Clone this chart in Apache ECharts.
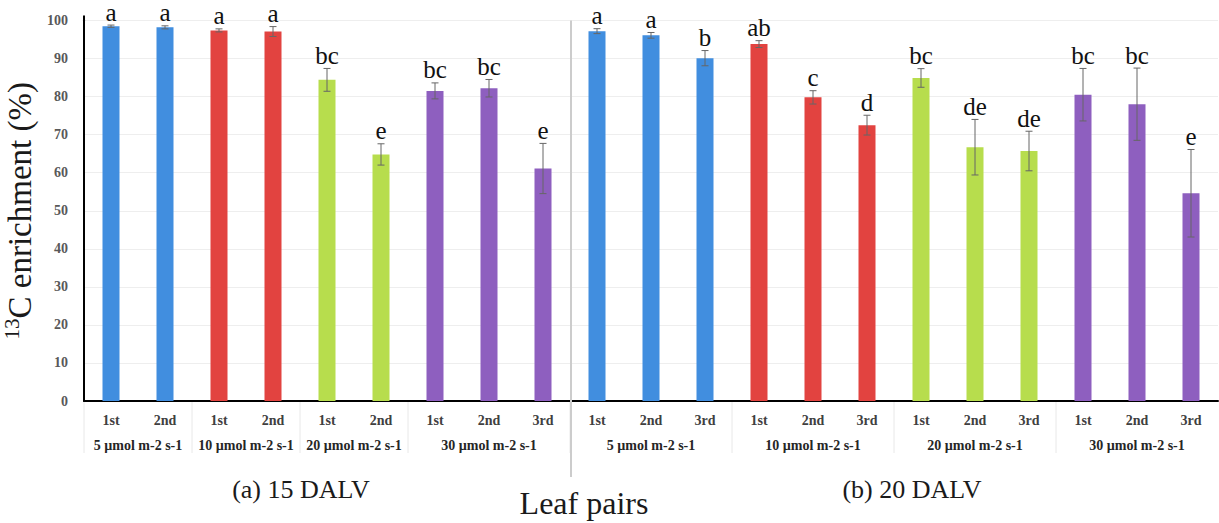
<!DOCTYPE html>
<html>
<head>
<meta charset="utf-8">
<script src="https://cdn.jsdelivr.net/npm/echarts@6/dist/echarts.min.js"></script>
<style>
  html, body { margin: 0; padding: 0; background: #ffffff; }
  #chart { width: 1219px; height: 523px; }
</style>
</head>
<body>
<div id="chart"></div>
<script>
// Leaf pair of each bar, left panel (15 DALV) then right panel (20 DALV)
const leafPairs = ['1st', '2nd', '1st', '2nd', '1st', '2nd', '1st', '2nd', '3rd',
                   '1st', '2nd', '3rd', '1st', '2nd', '3rd', '1st', '2nd', '3rd', '1st', '2nd', '3rd'];
// Mean 13C enrichment (%)
const enrichment = [98.5, 98.2, 97.4, 97.1, 84.4, 64.8, 81.5, 82.2, 61.1,
                    97.2, 96.1, 90.1, 93.8, 79.8, 72.5, 84.9, 66.7, 65.7, 80.5, 78.0, 54.6];
// Error bar half-lengths
const errorSize = [0.3, 0.4, 0.4, 1.3, 3.0, 2.8, 2.1, 2.3, 6.6,
                   0.65, 0.75, 2.0, 0.9, 1.75, 2.6, 2.45, 7.3, 5.2, 6.9, 9.5, 11.5];
// Significance letters
const letters = ['a', 'a', 'a', 'a', 'bc', 'e', 'bc', 'bc', 'e',
                 'a', 'a', 'b', 'ab', 'c', 'd', 'bc', 'de', 'de', 'bc', 'bc', 'e'];
// Light level index of each bar
const lightIndex = [0, 0, 1, 1, 2, 2, 3, 3, 3, 0, 0, 0, 1, 1, 1, 2, 2, 2, 3, 3, 3];
const lightLevels = ['5 µmol m-2 s-1', '10 µmol m-2 s-1', '20 µmol m-2 s-1', '30 µmol m-2 s-1'];
// Light-level groups: first bar, last bar, light level
const groupSpans = [[0, 1, 0], [2, 3, 1], [4, 5, 2], [6, 8, 3],
                    [9, 11, 0], [12, 14, 1], [15, 17, 2], [18, 20, 3]];
// First bar of the second panel
const panelStarts = [9];
const panelTitles = ['(a) 15 DALV', '(b) 20 DALV'];
const yTicks = [0, 10, 20, 30, 40, 50, 60, 70, 80, 90, 100];

const palette = ['#418EDF', '#E24340', '#B7DD4D', '#8E5FBF'];
const serif = "'Liberation Serif', 'Times New Roman', serif";

const chart = echarts.init(document.getElementById('chart'), null, { renderer: 'svg' });

chart.setOption({
  animation: false,
  backgroundColor: '#ffffff',
  grid: { left: 84, right: 1, top: 20.5, bottom: 122, containLabel: false, outerBoundsMode: 'none' },
  graphic: [
    { type: 'text', x: 301, y: 489, style: { text: panelTitles[0], font: '26px ' + serif, fill: '#1a1a1a', align: 'center', verticalAlign: 'middle' } },
    { type: 'text', x: 912, y: 489, style: { text: panelTitles[1], font: '26px ' + serif, fill: '#1a1a1a', align: 'center', verticalAlign: 'middle' } },
    { type: 'text', x: 584, y: 503, style: { text: 'Leaf pairs', font: '32px ' + serif, fill: '#1a1a1a', align: 'center', verticalAlign: 'middle' } }
  ],
  xAxis: {
    type: 'category',
    data: leafPairs,
    boundaryGap: true,
    axisLine: { show: true, lineStyle: { color: '#000000', width: 2 } },
    axisTick: { show: false },
    axisLabel: { interval: 0, margin: 12, fontFamily: serif, fontWeight: 'bold', fontSize: 14, color: '#404040' },
    splitLine: { show: false }
  },
  yAxis: {
    type: 'value',
    min: yTicks[0],
    max: yTicks[yTicks.length - 1],
    interval: yTicks[1] - yTicks[0],
    name: '{sup|13}{main|C enrichment (%)}',
    nameLocation: 'middle',
    nameGap: 41,
    nameTextStyle: {
      rich: {
        sup: { fontFamily: serif, fontSize: 21, color: '#1a1a1a', verticalAlign: 'top', lineHeight: 20 },
        main: { fontFamily: serif, fontSize: 33, color: '#1a1a1a', lineHeight: 36 }
      }
    },
    axisLine: { show: true, lineStyle: { color: '#000000', width: 2 } },
    axisTick: { show: false },
    axisLabel: { margin: 16, fontFamily: serif, fontWeight: 'bold', fontSize: 14, color: '#595959' },
    splitLine: { show: true, lineStyle: { color: '#eeeeee', width: 1 } }
  },
  series: [
    {
      type: 'bar',
      barWidth: 17,
      data: enrichment.map((v, i) => ({ value: v, itemStyle: { color: palette[lightIndex[i]] } })),
      z: 2
    },
    {
      // error bars with significance letters
      type: 'custom',
      z: 3,
      data: enrichment.map((v, i) => [i, v, errorSize[i]]),
      encode: { x: 0, y: 1 },
      renderItem: function (params, api) {
        const x = api.coord([api.value(0), 0])[0];
        const hi = api.coord([api.value(0), api.value(1) + api.value(2)])[1];
        const lo = api.coord([api.value(0), api.value(1) - api.value(2)])[1];
        const cap = 3.5;
        const stroke = { stroke: '#666666', lineWidth: 1 };
        return {
          type: 'group',
          children: [
            { type: 'line', shape: { x1: x, y1: hi, x2: x, y2: lo }, style: stroke },
            { type: 'line', shape: { x1: x - cap, y1: hi, x2: x + cap, y2: hi }, style: stroke },
            { type: 'line', shape: { x1: x - cap, y1: lo, x2: x + cap, y2: lo }, style: stroke },
            {
              type: 'text', x: x, y: hi - 13,
              style: {
                text: letters[params.dataIndex], font: '25px ' + serif, lineHeight: 12,
                fill: '#111111', align: 'center', verticalAlign: 'middle'
              }
            }
          ]
        };
      }
    },
    {
      // light-level group labels and their dividers below the axis
      type: 'custom',
      z: 1,
      silent: true,
      data: groupSpans,
      encode: { x: [0, 1] },
      renderItem: function (params, api) {
        const band = api.size([1, 0])[0];
        const x0 = api.coord([api.value(0), 0])[0] - band / 2;
        const x1 = api.coord([api.value(1), 0])[0] + band / 2;
        const y0 = api.coord([0, 0])[1];
        return {
          type: 'group',
          children: [
            { type: 'line', shape: { x1: x0, y1: y0 + 1, x2: x0, y2: y0 + 52 }, style: { stroke: '#e8e8e8', lineWidth: 1 } },
            {
              type: 'text', x: (x0 + x1) / 2, y: y0 + 44,
              style: { text: lightLevels[api.value(2)], font: 'bold 14px ' + serif, fill: '#262626', align: 'center', verticalAlign: 'middle' }
            }
          ]
        };
      }
    },
    {
      // divider between the two panels, plus the short overshoot of the value axis line
      type: 'custom',
      z: 1,
      silent: true,
      data: panelStarts.map(v => [v]),
      encode: { x: 0 },
      renderItem: function (params, api) {
        const band = api.size([1, 0])[0];
        const x = api.coord([api.value(0), 0])[0] - band / 2 + 1;
        const xAxisStart = api.coord([0, 0])[0] - band / 2;
        const y0 = api.coord([0, 0])[1];
        const yTop = api.coord([0, 100])[1];
        return {
          type: 'group',
          children: [
            { type: 'line', shape: { x1: x, y1: yTop, x2: x, y2: y0 + 76 }, style: { stroke: '#cccccc', lineWidth: 2 } },
            { type: 'line', shape: { x1: xAxisStart, y1: yTop + 1, x2: xAxisStart, y2: yTop - 5 }, style: { stroke: '#000000', lineWidth: 2 } }
          ]
        };
      }
    }
  ]
});
</script>
</body>
</html>
